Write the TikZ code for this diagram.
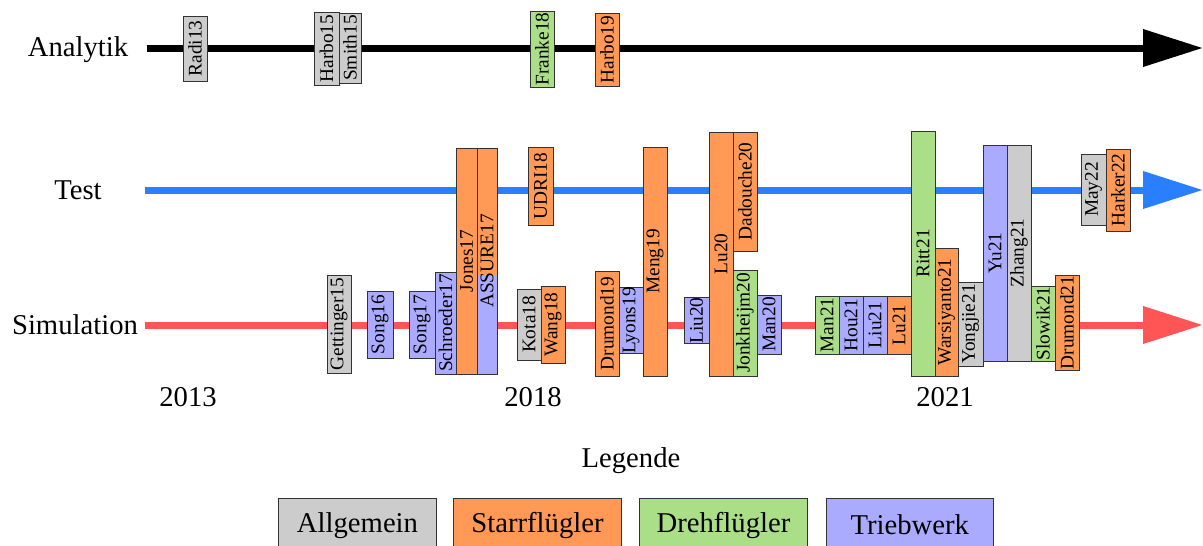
\documentclass[tikz,border=0pt]{standalone}
\usepackage{fontspec}
\setmainfont{Liberation Serif}
\usetikzlibrary{arrows.meta}
\definecolor{cgray}{HTML}{CCCCCC}
\definecolor{corange}{HTML}{FF9955}
\definecolor{cgreen}{HTML}{AADE87}
\definecolor{cblue}{HTML}{AAAAFF}
\definecolor{lblue}{HTML}{2A7FFF}
\definecolor{lred}{HTML}{FF5555}
\newcommand\pap[7]{%
  \pgfmathsetmacro\pcx{(#2+#4)/2}%
  \pgfmathsetmacro\pcy{(#3+#5)/2}%
  \pgfmathsetmacro\pw{(#4-#2)*0.75}%
  \pgfmathsetmacro\ph{(#5-#3)*0.75}%
  \node[paper,fill=#6,minimum width=\ph pt,minimum height=\pw pt,rotate=90] (#1) at (\pcx,\pcy) {#7};}
\begin{document}
\begin{tikzpicture}[x=0.75pt,y=-0.75pt,
  paper/.style={draw=black!80,line width=0.75pt,inner sep=0pt,font=\fontsize{14.5}{16}\selectfont},
  big/.style={font=\fontsize{21.5}{24}\selectfont,inner sep=0pt},
  legbox/.style={draw=black!80,line width=0.75pt,inner sep=0pt,font=\fontsize{21.5}{24}\selectfont,anchor=north west},
  axis/.style={line width=5.25pt}]
\useasboundingbox (0,0) rectangle (1203,546);
% axes
\node[big] (analytik) at (78,50) {Analytik};
\node[big] (test) at (78,190) {Test};
\node[big] (simulation) at (75,325) {Simulation};
\coordinate (aS) at (147,48); \coordinate (aE) at (1203,48);
\coordinate (tS) at (145,190); \coordinate (tE) at (1203,190);
\coordinate (sS) at (145,325); \coordinate (sE) at (1203,325);
\draw[axis,black,-{Triangle[length=45pt,width=27pt]}] (aS) -- (aE);
\draw[axis,lblue,-{Triangle[length=45pt,width=27pt]}] (tS) -- (tE);
\draw[axis,lred,-{Triangle[length=45pt,width=27pt]}] (sS) -- (sE);
% years
\node[big] (y2013) at (188,397) {2013};
\node[big] (y2018) at (533,397) {2018};
\node[big] (y2021) at (945,397) {2021};
% Analytik
\pap{Radi13}{183}{16}{207}{81}{cgray}{Radi13}
\pap{Harbo15}{314}{12}{339}{85}{cgray}{Harbo15}
\pap{Smith15}{339}{13}{361}{83}{cgray}{Smith15}
\pap{Franke18}{530}{11}{554}{87}{cgreen}{Franke18}
\pap{Harbo19}{595}{13}{619}{86}{corange}{Harbo19}
% Test
\pap{Jones17}{456}{148}{477}{374}{corange}{Jones17}
\fill[corange] (477,148) rectangle (497,275);
\fill[cblue] (477,275) rectangle (497,374);
\pap{ASSURE17}{477}{148}{497}{374}{none}{ASSURE17}
\pap{UDRI18}{528}{147}{553}{225}{corange}{UDRI18}
\pap{Meng19}{643}{147}{667}{376}{corange}{Meng19}
\pap{Lu20}{709}{132}{733}{376}{corange}{Lu20}
\pap{Dadouche20}{733}{132}{757}{251}{corange}{Dadouche20}
\pap{Ritt21}{911}{131}{935}{376}{cgreen}{Ritt21}
\pap{Yu21}{983}{145}{1007}{361}{cblue}{Yu21}
\pap{Zhang21}{1007}{145}{1031}{361}{cgray}{Zhang21}
\pap{May22}{1081}{154}{1106}{225}{cgray}{May22}
\pap{Harker22}{1106}{149}{1130}{231}{corange}{Harker22}
% Simulation
\pap{Gettinger15}{327}{275}{351}{373}{cgray}{Gettinger15}
\pap{Song16}{367}{291}{393}{358}{cblue}{Song16}
\pap{Song17}{409}{291}{435}{358}{cblue}{Song17}
\pap{Schroeder17}{435}{272}{456}{374}{cblue}{Schroeder17}
\pap{Kota18}{517}{289}{541}{360}{cgray}{Kota18}
\pap{Wang18}{541}{286}{565}{363}{corange}{Wang18}
\pap{Drumond19}{595}{271}{619}{376}{corange}{Drumond19}
\pap{Lyons19}{619}{289}{643}{352}{cblue}{Lyons19}
\pap{Liu20}{684}{298}{709}{343}{cblue}{Liu20}
\pap{Jonkheijm20}{733}{270}{757}{376}{cgreen}{Jonkheijm20}
\pap{Man20}{757}{295}{781}{354}{cblue}{Man20}
\pap{Man21}{815}{296}{839}{354}{cgreen}{Man21}
\pap{Hou21}{839}{296}{863}{354}{cblue}{Hou21}
\pap{Liu21}{863}{296}{887}{354}{cblue}{Liu21}
\pap{Lu21}{887}{296}{911}{354}{corange}{Lu21}
\pap{Warsiyanto21}{935}{248}{958}{376}{corange}{Warsiyanto21}
\pap{Yongjie21}{958}{282}{983}{366}{cgray}{Yongjie21}
\pap{Slowik21}{1031}{286}{1055}{361}{cgreen}{Slowik21}
\pap{Drumond21}{1055}{275}{1079}{370}{corange}{Drumond21}
% legend
\node[big] (legende) at (631,461) {Legende};
\node[legbox,fill=cgray,minimum width=118.5pt,minimum height=40pt] (lgA) at (278,498) {Allgemein};
\node[legbox,fill=corange,minimum width=126pt,minimum height=40pt] (lgS) at (453,498) {Starrflügler};
\node[legbox,fill=cgreen,minimum width=126pt,minimum height=40pt] (lgD) at (639,498) {Drehflügler};
\node[legbox,fill=cblue,minimum width=125pt,minimum height=40pt] (lgT) at (826,498) {Triebwerk};
\end{tikzpicture}
\end{document}
